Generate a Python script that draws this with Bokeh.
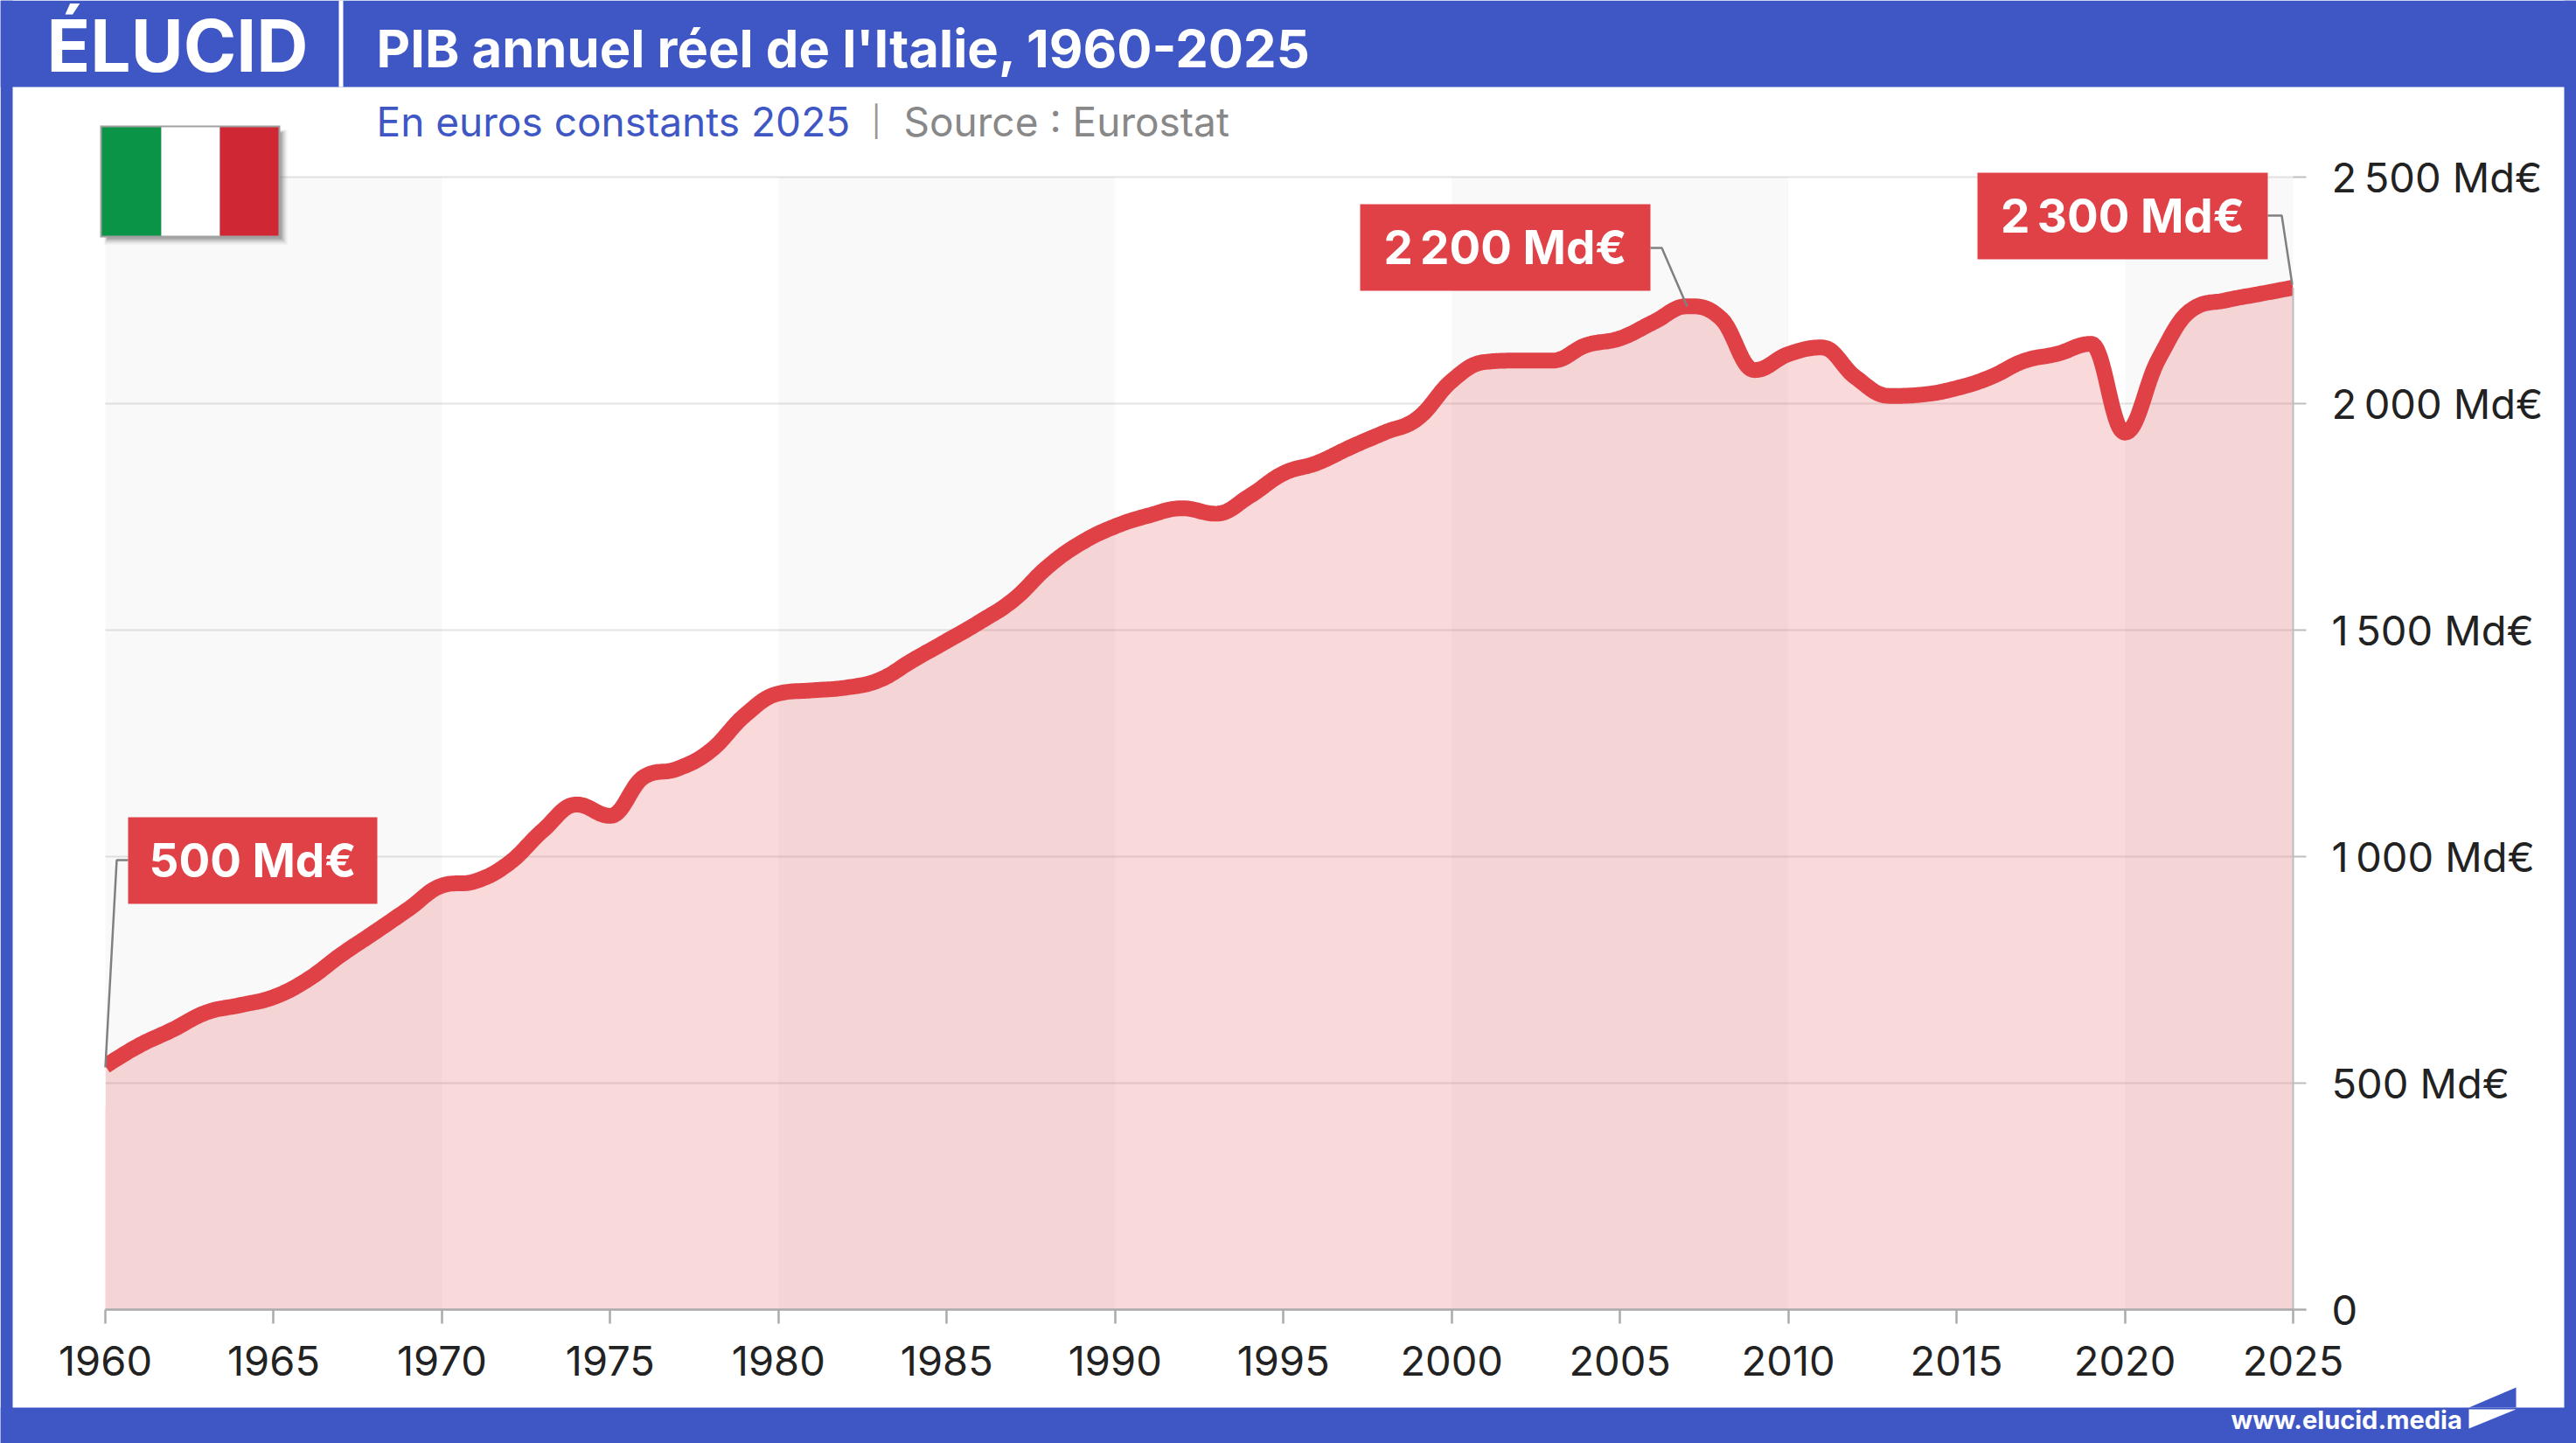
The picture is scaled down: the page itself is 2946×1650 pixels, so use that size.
from bokeh.plotting import figure
from bokeh.models import BoxAnnotation, Label, PolyAnnotation, FixedTicker, Range1d
from bokeh.embed import file_html
from bokeh.resources import INLINE

years = list(range(1960, 2026))
gdp = [538, 583, 618, 656, 672, 690, 728, 783, 833, 884,
       936, 946, 986, 1058, 1115, 1090, 1176, 1194, 1235, 1312,
       1360, 1367, 1373, 1390, 1434, 1476, 1519, 1568, 1640, 1693,
       1729, 1753, 1769, 1757, 1796, 1846, 1869, 1904, 1936, 1968,
       2050, 2092, 2095, 2095, 2129, 2144, 2180, 2215, 2188, 2074,
       2109, 2124, 2058, 2017, 2020, 2034, 2058, 2094, 2110, 2132,
       1936, 2098, 2208, 2228, 2242, 2256]
x_ticks = list(range(1960, 2026, 5))
y_ticks = [0, 500, 1000, 1500, 2000, 2500]
y_tick_labels = ["0", "500 Md€", "1\u2009000 Md€", "1\u2009500 Md€", "2\u2009000 Md€", "2\u2009500 Md€"]
band_starts = [1960, 1980, 2000, 2020]
band_ends = [1970, 1990, 2010, 2025]
title_text = "PIB annuel réel de l'Italie, 1960-2025"
subtitle_text = "En euros constants 2025"
source_text = "Source : Eurostat"

BLUE = "#3F57C5"
RED = "#E04146"
FONT = "Inter"
W, H = 2946, 1650
FL, FR, FT, FB = 120, 2622, 202, 1497  # plot area in window pixels


def spline(xs, ys, steps=20):
    """Smooth rendering path through the annual values (control points as in an area-spline)."""
    s, d = 1.5, 2.5
    n = len(xs)
    ctrl = []
    for i in range(n):
        if i == 0 or i == n - 1:
            ctrl.append((xs[i], ys[i], xs[i], ys[i]))
            continue
        lx = (s * xs[i] + xs[i - 1]) / d
        ly = (s * ys[i] + ys[i - 1]) / d
        rx = (s * xs[i] + xs[i + 1]) / d
        ry = (s * ys[i] + ys[i + 1]) / d
        if rx != lx:
            c = ((ry - ly) * (rx - xs[i])) / (rx - lx) + ys[i] - ry
            ly += c
            ry += c
        if ly > max(ys[i - 1], ys[i]):
            ly = max(ys[i - 1], ys[i]); ry = 2 * ys[i] - ly
        elif ly < min(ys[i - 1], ys[i]):
            ly = min(ys[i - 1], ys[i]); ry = 2 * ys[i] - ly
        if ry > max(ys[i + 1], ys[i]):
            ry = max(ys[i + 1], ys[i]); ly = 2 * ys[i] - ry
        elif ry < min(ys[i + 1], ys[i]):
            ry = min(ys[i + 1], ys[i]); ly = 2 * ys[i] - ry
        ctrl.append((lx, ly, rx, ry))
    px, py = [xs[0]], [ys[0]]
    for i in range(n - 1):
        x0, y0 = xs[i], ys[i]
        x3, y3 = xs[i + 1], ys[i + 1]
        x1, y1 = ctrl[i][2], ctrl[i][3]
        x2, y2 = ctrl[i + 1][0], ctrl[i + 1][1]
        for k in range(1, steps + 1):
            t = k / steps
            u = 1 - t
            px.append(u**3 * x0 + 3 * u * u * t * x1 + 3 * u * t * t * x2 + t**3 * x3)
            py.append(u**3 * y0 + 3 * u * u * t * y1 + 3 * u * t * t * y2 + t**3 * y3)
    return px, py


def dx(px):
    return 1960 + (px - FL) * 65 / (FR - FL)


def dy(py):
    return (FB - py) * 2500 / (FB - FT)


# The frame fills the whole canvas; the axes sit inside it at fixed locations.
p = figure(width=W, height=H, output_backend="svg", toolbar_location=None,
           x_range=Range1d(dx(0), dx(W)), y_range=Range1d(dy(H), dy(0)),
           y_axis_location="right",
           min_border_left=0, min_border_right=0, min_border_top=0, min_border_bottom=0,
           background_fill_color="white", border_fill_color="white")
p.outline_line_color = None
p.xgrid.visible = False
p.ygrid.visible = False

xa = p.xaxis[0]
xa.fixed_location = 0
xa.bounds = (1960, 2025)
xa.ticker = FixedTicker(ticks=x_ticks)
xa.major_label_overrides = {t: str(t) for t in x_ticks}
xa.axis_line_color = "#ABABAB"
xa.axis_line_width = 2.5
xa.major_tick_line_color = "#ABABAB"
xa.major_tick_line_width = 2.5
xa.major_tick_out = 16
xa.major_tick_in = 0
xa.minor_tick_line_color = None
xa.major_label_text_font = FONT
xa.major_label_text_font_size = "47px"
xa.major_label_text_color = "#222222"
xa.major_label_standoff = 25

ya = p.yaxis[0]
ya.fixed_location = 2025
ya.bounds = (0, 2500)
ya.ticker = FixedTicker(ticks=y_ticks)
ya.major_label_overrides = dict(zip(y_ticks, y_tick_labels))
ya.axis_line_color = None
ya.major_tick_line_color = "#BDBDBD"
ya.major_tick_line_width = 2
ya.major_tick_out = 15
ya.major_tick_in = 0
ya.minor_tick_line_color = None
ya.major_label_text_font = FONT
ya.major_label_text_font_size = "47px"
ya.major_label_text_color = "#222222"
ya.major_label_standoff = 29

# horizontal grid lines stop at the plot area's edges
p.segment(x0=[1960] * len(y_ticks), x1=[2025] * len(y_ticks), y0=y_ticks, y1=y_ticks,
          line_color="#E4E4E4", line_width=2)
p.quad(left=band_starts, right=band_ends, bottom=0, top=2500,
       fill_color="black", fill_alpha=0.025, line_color=None)

sx, sy = spline(years, gdp)
p.varea(x=sx, y1=[0] * len(sx), y2=sy, fill_color=RED, fill_alpha=0.2)
p.line(sx, sy, line_color=RED, line_width=18, line_join="round")
# the curve stops square at the two edges of the plot area
p.quad(left=[dx(100), 2025], right=[1960, dx(2636)], bottom=[gdp[0] - 90, gdp[-1] - 90],
       top=[gdp[0] + 90, gdp[-1] + 90], fill_color="white", line_color=None)
p.segment(x0=[2025], x1=[2025], y0=[0], y1=[gdp[-1]], line_color="#BDBDBD", line_width=2)

# leader lines from the call-outs to their points
LEAD = "#808080"
p.line([dx(146), dx(133), dx(120)], [dy(983), dy(983), dy(1220)], line_color=LEAD, line_width=2.5)
p.line([dx(1887), dx(1900), dx(1929)], [dy(283), dy(283), dy(350)], line_color=LEAD, line_width=2.5)
p.line([dx(2593), dx(2609), dx(2621)], [dy(246), dy(246), dy(325)], line_color=LEAD, line_width=2.5)


def box(l, t, r, b, color, alpha=1.0):
    p.add_layout(BoxAnnotation(left=l, right=r, top=t, bottom=b,
                               left_units="canvas", right_units="canvas",
                               top_units="canvas", bottom_units="canvas",
                               fill_color=color, fill_alpha=alpha, line_color=None,
                               editable=False))


def poly(xs, ys, color):
    p.add_layout(PolyAnnotation(xs=list(xs), ys=list(ys),
                                xs_units="canvas", ys_units="canvas",
                                fill_color=color, fill_alpha=1, line_color=None))


def text(x, y, s, size, color, style="normal", align="left"):
    p.add_layout(Label(x=x, y=y, x_units="canvas", y_units="canvas", text=s,
                       text_font=FONT, text_font_size=f"{size}px", text_color=color,
                       text_font_style=style, text_align=align, text_baseline="middle"))


# frame of the page
box(0, 0, 14, 1650, BLUE)
box(2932, 0, 2946, 1650, BLUE)
box(0, 0, 2946, 99, BLUE)
box(0, 1609, 2946, 1650, BLUE)
box(387, 0, 392, 99, "white")

# header
text(53, 52, "ÉLUCID", 82, "white", "bold")
text(430, 54, title_text, 59.7, "white", "bold")
text(430, 138, subtitle_text, 46, BLUE)
text(996, 138, "|", 34, "#999999")
text(1033, 138, source_text, 46, "#888888")

# flag
for i, a in enumerate([0.08, 0.12, 0.18, 0.25]):
    box(116 + 3 + i, 145 + 3 + i, 318 + 10 - 2 * i, 269 + 10 - 2 * i, "#555555", a)
box(114, 143, 320, 271, "#A0A0A0")
box(116, 145, 184, 269, "#0A9447")
box(184, 145, 251, 269, "#FFFFFF")
box(251, 145, 318, 269, "#CF2733")

# call-outs
for l, t, r, b, s in [(146, 934, 431, 1033, "500 Md€"),
                      (1555, 233, 1887, 332, "2\u2009200 Md€"),
                      (2261, 197, 2593, 296, "2\u2009300 Md€")]:
    box(l, t, r, b, RED)
    text((l + r) / 2, (t + b) / 2, s, 53, "white", "bold", "center")

# x-axis end
box(2622, 1496, 2637, 1498, "#ABABAB")

# footer
text(2551, 1623, "www.elucid.media", 29, "white", "bold")
poly([2823, 2877, 2877], [1609, 1586, 1609], BLUE)
poly([2823, 2877, 2823], [1611, 1611, 1633], "white")

open("out.html", "w").write(file_html(p, INLINE))
